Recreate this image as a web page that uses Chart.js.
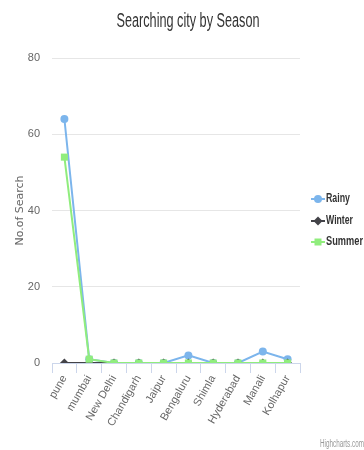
<!DOCTYPE html>
<html>
<head>
<meta charset="utf-8">
<script src="https://cdn.jsdelivr.net/npm/chart.js@4/dist/chart.umd.min.js"></script>
<style>
  html, body { margin: 0; padding: 0; background: #fff; }
  #wrap { width: 364px; height: 450px; position: relative; }
</style>
</head>
<body>
<div id="wrap"><canvas id="seasonChart" width="364" height="450"></canvas></div>
<script>
/* ===============================
   DATA
================================ */
const cities = ['pune', 'mumbai', 'New Delhi', 'Chandigarh', 'Jaipur', 'Bengaluru', 'Shimla', 'Hyderabad', 'Manali', 'Kolhapur'];
const rainy = [64, 1, 0, 0, 0, 2, 0, 0, 3, 1];
const winter = [0, 0, 0, 0, 0, 0, 0, 0, 0, 0];
const summer = [54, 1, 0, 0, 0, 0, 0, 0, 0, 0];
const yTicks = [0, 20, 40, 60, 80];

const FONT = "'Liberation Sans', Arial, sans-serif";

// draws text squeezed horizontally to a given width (the original uses a condensed face)
function drawNarrow(ctx, text, x, y, width, align) {
  const w = ctx.measureText(text).width;
  const k = Math.min(1, width / w);
  ctx.save();
  ctx.textAlign = 'left';
  let left = x;
  if (align === 'center') left = x - width / 2;
  if (align === 'right') left = x - w * k;
  ctx.translate(left, y);
  ctx.scale(k, 1);
  ctx.fillText(text, 0, 0);
  ctx.restore();
}

/* ===============================
   EXTRA DRAWING (title, legend, credits)
================================ */
const decorations = {
  id: 'decorations',
  afterDraw(chart) {
    const ctx = chart.ctx;
    ctx.save();

    // title
    ctx.fillStyle = '#333333';
    ctx.font = '20px ' + FONT;
    ctx.textBaseline = 'alphabetic';
    drawNarrow(ctx, 'Searching city by Season', 188, 27, 143, 'center');

    // legend
    const legendY = [199, 221, 242];
    const legendW = [24, 27, 37];
    chart.data.datasets.forEach((ds, i) => {
      const y = legendY[i];
      const x = 318;
      ctx.strokeStyle = ds.borderColor;
      ctx.lineWidth = 2;
      ctx.beginPath();
      ctx.moveTo(311, y);
      ctx.lineTo(325, y);
      ctx.stroke();
      ctx.fillStyle = ds.borderColor;
      ctx.beginPath();
      if (ds.pointStyle === 'circle') {
        ctx.arc(x, y, 4, 0, Math.PI * 2);
      } else if (ds.pointStyle === 'rectRot') {
        ctx.moveTo(x, y - 4.5);
        ctx.lineTo(x + 4.5, y);
        ctx.lineTo(x, y + 4.5);
        ctx.lineTo(x - 4.5, y);
        ctx.closePath();
      } else {
        ctx.rect(x - 3.5, y - 3.5, 7, 7);
      }
      ctx.fill();
      ctx.fillStyle = '#333333';
      ctx.font = 'bold 12px ' + FONT;
      ctx.textBaseline = 'middle';
      drawNarrow(ctx, ds.label, 326, y, legendW[i], 'left');
    });

    // credits
    ctx.font = '10px ' + FONT;
    ctx.fillStyle = '#999999';
    ctx.textBaseline = 'alphabetic';
    drawNarrow(ctx, 'Highcharts.com', 364, 447, 44, 'right');
    ctx.restore();
  },
};

/* ===============================
   CHART
================================ */
const ctx = document.getElementById('seasonChart');

const seasonChart = new Chart(ctx, {
  type: 'line',
  data: {
    labels: cities,
    datasets: [
      {
        label: 'Rainy',
        data: rainy,
        borderColor: '#7cb5ec',
        backgroundColor: '#7cb5ec',
        pointStyle: 'circle',
        pointRadius: 4,
        order: 2,
      },
      {
        label: 'Winter',
        data: winter,
        borderColor: '#434348',
        backgroundColor: '#434348',
        pointStyle: 'rectRot',
        pointRadius: 4.5,
        order: 1,
      },
      {
        label: 'Summer',
        data: summer,
        borderColor: '#90ed7d',
        backgroundColor: '#90ed7d',
        pointStyle: 'rect',
        pointRadius: 5,
        order: 0,
      },
    ],
  },
  options: {
    responsive: false,
    animation: false,
    layout: { padding: { left: 0, right: 64, top: 58, bottom: 0 } },
    elements: { line: { borderWidth: 2, tension: 0 }, point: { borderWidth: 0 } },
    plugins: {
      legend: { display: false },
      tooltip: { enabled: false },
      title: { display: false },
    },
    scales: {
      x: {
        offset: true,
        afterFit: (scale) => { scale.height = 87; },
        grid: {
          offset: true,
          drawOnChartArea: false,
          drawTicks: true,
          tickLength: 10,
          color: '#ccd6eb',
        },
        border: { display: true, color: '#ccd6eb' },
        ticks: {
          color: '#666666',
          font: { family: FONT, size: 11 },
          minRotation: 60,
          maxRotation: 60,
          padding: 0,
          autoSkip: false,
        },
      },
      y: {
        min: 0,
        max: 80,
        afterFit: (scale) => { scale.width = 52; },
        afterBuildTicks: (scale) => { scale.ticks = yTicks.map((v) => ({ value: v })); },
        grid: { color: '#e6e6e6', drawTicks: false },
        border: { display: false },
        ticks: {
          color: '#666666',
          font: { family: FONT, size: 11 },
          padding: 12,
        },
        title: {
          display: true,
          text: 'No.of Search',
          color: '#666666',
          font: { family: "'DejaVu Sans', sans-serif", size: 11 },
          padding: { top: 14, bottom: 0 },
        },
      },
    },
  },
  plugins: [decorations],
});
</script>
</body>
</html>
